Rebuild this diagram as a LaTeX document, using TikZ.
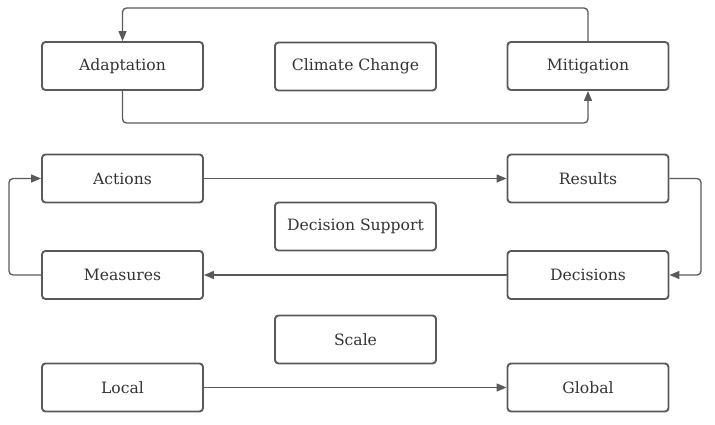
\documentclass[tikz,border=0pt]{standalone}
\usepackage{fontspec}
\setmainfont{DejaVu Serif}
\usetikzlibrary{arrows.meta}
\definecolor{linegray}{HTML}{5A5A5A}
\definecolor{textgray}{HTML}{333333}
\begin{document}
\begin{tikzpicture}[x=1pt,y=-1pt,
  box/.style={draw=linegray, line width=1.9pt, rounded corners=3.5pt, fill=white,
    minimum width=161pt, minimum height=48pt, inner sep=0pt,
    font=\fontsize{15.6pt}{18pt}\selectfont, text=textgray},
  conn/.style={draw=linegray, line width=1.3pt, rounded corners=4pt},
  arr/.style={conn, -{Triangle[length=10pt,width=8pt]}}]
\useasboundingbox (0,0) rectangle (715,425);
% top row
\node[box] (adapt) at (122.5,66) {Adaptation};
\node[box] (climate) at (355.5,66.5) {Climate Change};
\node[box] (mitig) at (588,66) {Mitigation};
% middle
\node[box] (actions) at (122.5,178.5) {Actions};
\node[box] (results) at (588,178.5) {Results};
\node[box] (support) at (355.5,226.5) {Decision Support};
\node[box] (measures) at (122.5,275) {Measures};
\node[box] (decisions) at (588,275) {Decisions};
% bottom
\node[box] (scale) at (355.5,339.5) {Scale};
\node[box] (local) at (122.5,387.5) {Local};
\node[box] (global) at (588,387.5) {Global};
% connectors
\draw[arr] (mitig.north) |- (355,8) -| (adapt.north);
\draw[arr] (adapt.south) |- (355,123) -| (mitig.south);
\draw[arr] (actions.east) -- (results.west);
\draw[arr] (results.east) -| (701,226) |- (decisions.east);
\draw[arr] (decisions.west) -- (measures.east);
\draw[arr] (measures.west) -| (9,226) |- (actions.west);
\draw[arr] (local.east) -- (global.west);
\end{tikzpicture}
\end{document}
